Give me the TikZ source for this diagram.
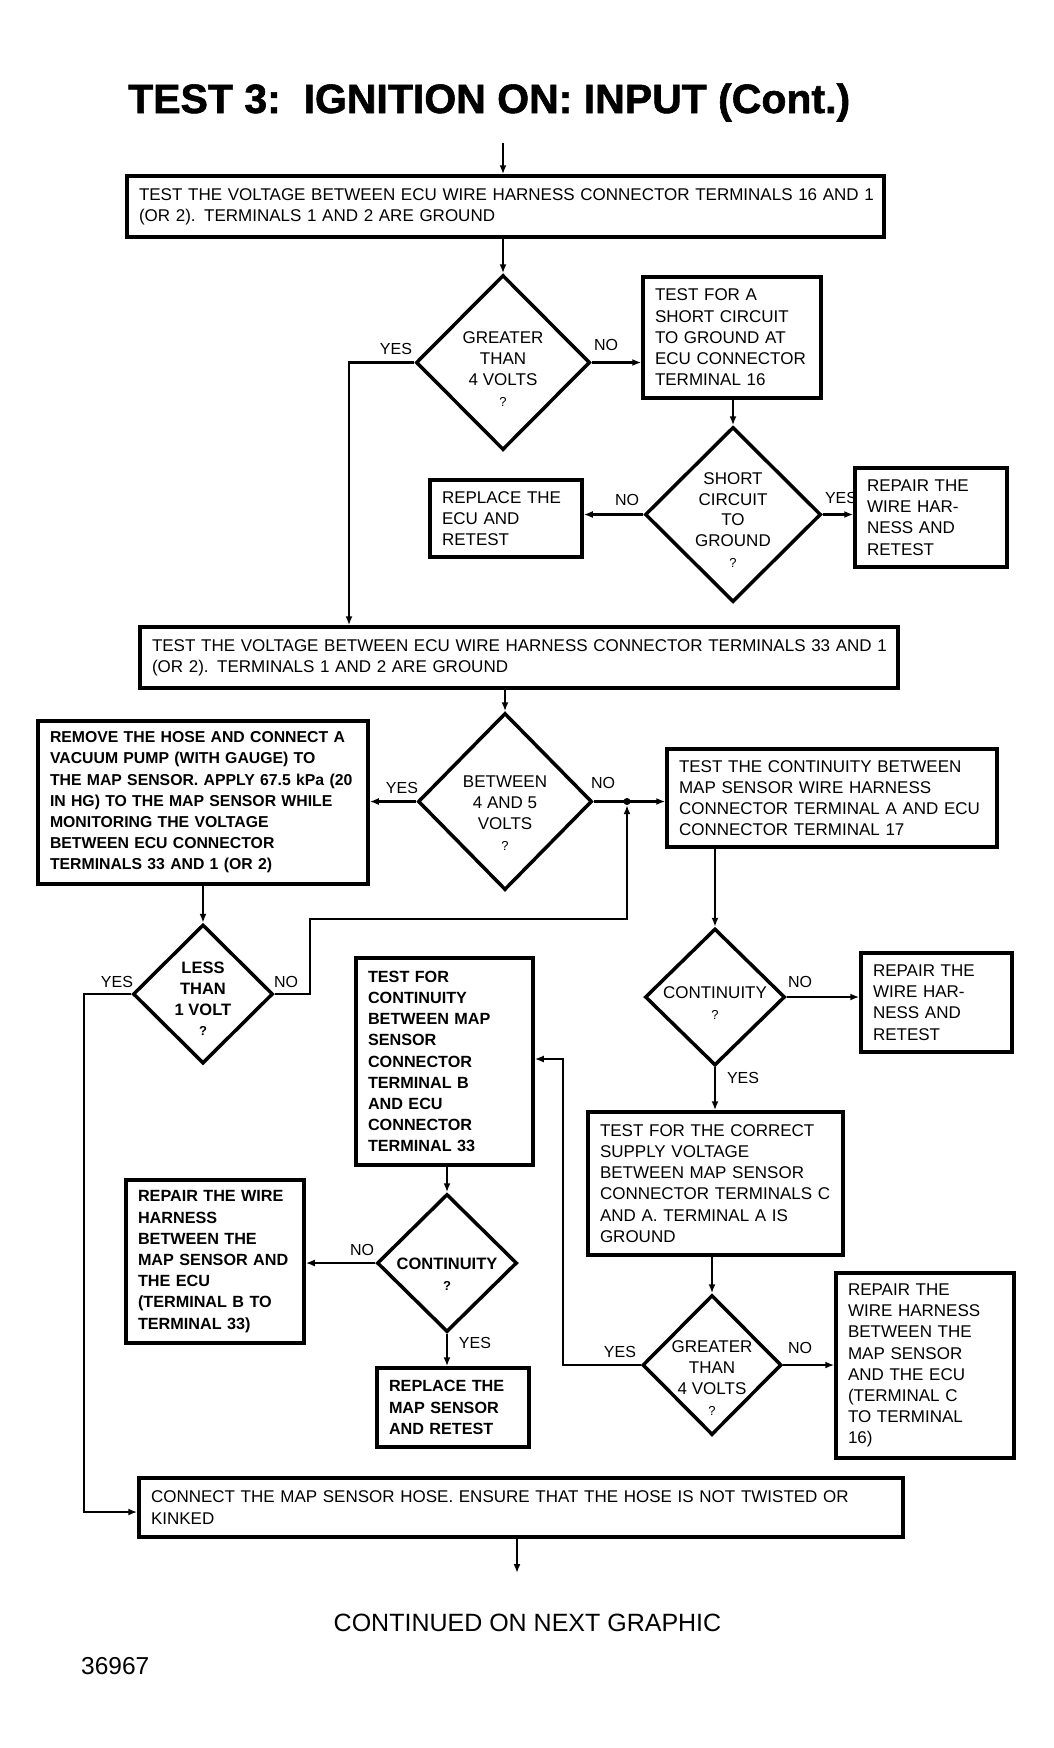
\documentclass[tikz,border=0pt]{standalone}
\usepackage{fontspec}
\setmainfont{Liberation Sans}
\newfontfamily\titlefont{Liberation Sans Bold}[FakeBold=1.4]
\usetikzlibrary{shapes.geometric,arrows.meta}
\newcommand\xl[1]{\mbox{#1}}
\newcommand\qm{{\fontsize{13}{13}\selectfont ?}}
\begin{document}
\begin{tikzpicture}[x=1pt,y=-1pt,
  box/.style={draw, line width=3.5pt, inner xsep=12pt, inner ysep=2pt, align=left, font=\fontsize{17}{21.2}\selectfont},
  hbox/.style={box, font=\fontsize{16.2}{21.2}\selectfont\bfseries},
  dia/.style={draw, diamond, line width=3.5pt, inner sep=0pt},
  dtxt/.style={align=center, inner sep=0pt, font=\fontsize{17}{20.8}\selectfont},
  hdtxt/.style={dtxt, font=\fontsize{16.5}{20.8}\selectfont\bfseries},
  lab/.style={inner sep=0pt, font=\fontsize{16}{16}\selectfont},
  conn/.style={line width=2.6pt, -{Latex[length=9pt,width=7pt]}},
  dotn/.style={circle, fill, inner sep=0pt, minimum size=7pt}]
\fill[white] (0,0) rectangle (1053,1748);
\useasboundingbox (0,0) rectangle (1053,1748);

% title
\node[anchor=base west, inner sep=0pt, font=\fontsize{41}{41}\titlefont] (title) at (128,113) {TEST 3:\ \ IGNITION ON: INPUT (Cont.)};

% boxes
\node[box, minimum width=757pt, minimum height=61pt, text width=733pt] (b1) at (505.5,206.5)
 {\xl{TEST THE VOLTAGE BETWEEN ECU WIRE HARNESS CONNECTOR TERMINALS 16 AND 1}\\\xl{(OR 2). TERMINALS 1 AND 2 ARE GROUND}};
\node[box, minimum width=178pt, minimum height=121pt, text width=154pt] (b2) at (732,337.5)
 {\xl{TEST FOR A}\\\xl{SHORT CIRCUIT}\\\xl{TO GROUND AT}\\\xl{ECU CONNECTOR}\\\xl{TERMINAL 16}};
\node[box, minimum width=152pt, minimum height=77pt, text width=128pt] (brp) at (506,518.5)
 {\xl{REPLACE THE}\\\xl{ECU AND}\\\xl{RETEST}};
\node[box, minimum width=152pt, minimum height=99pt, text width=128pt] (brw) at (931,517.5)
 {\xl{REPAIR THE}\\\xl{WIRE HAR-}\\\xl{NESS AND}\\\xl{RETEST}};
\node[box, minimum width=758pt, minimum height=61pt, text width=734pt] (b3) at (519,657.5)
 {\xl{TEST THE VOLTAGE BETWEEN ECU WIRE HARNESS CONNECTOR TERMINALS 33 AND 1}\\\xl{(OR 2). TERMINALS 1 AND 2 ARE GROUND}};
\node[hbox, minimum width=330pt, minimum height=163pt, text width=306pt, font=\fontsize{15.8}{21.2}\selectfont\bfseries] (b4) at (203,802.5)
 {\xl{REMOVE THE HOSE AND CONNECT A}\\\xl{VACUUM PUMP (WITH GAUGE) TO}\\\xl{THE MAP SENSOR. APPLY 67.5 kPa (20}\\\xl{IN HG) TO THE MAP SENSOR WHILE}\\\xl{MONITORING THE VOLTAGE}\\\xl{BETWEEN ECU CONNECTOR}\\\xl{TERMINALS 33 AND 1 (OR 2)}};
\node[box, minimum width=330pt, minimum height=98pt, text width=306pt] (b5) at (832,798)
 {\xl{TEST THE CONTINUITY BETWEEN}\\\xl{MAP SENSOR WIRE HARNESS}\\\xl{CONNECTOR TERMINAL A AND ECU}\\\xl{CONNECTOR TERMINAL 17}};
\node[hbox, minimum width=177pt, minimum height=207pt, text width=153pt] (b6) at (444.5,1061.5)
 {\xl{TEST FOR}\\\xl{CONTINUITY}\\\xl{BETWEEN MAP}\\\xl{SENSOR}\\\xl{CONNECTOR}\\\xl{TERMINAL B}\\\xl{AND ECU}\\\xl{CONNECTOR}\\\xl{TERMINAL 33}};
\node[box, minimum width=151pt, minimum height=99pt, text width=127pt] (b7) at (936.5,1002.5)
 {\xl{REPAIR THE}\\\xl{WIRE HAR-}\\\xl{NESS AND}\\\xl{RETEST}};
\node[hbox, minimum width=178pt, minimum height=163pt, text width=154pt] (b8) at (215,1261.5)
 {\xl{REPAIR THE WIRE}\\\xl{HARNESS}\\\xl{BETWEEN THE}\\\xl{MAP SENSOR AND}\\\xl{THE ECU}\\\xl{(TERMINAL B TO}\\\xl{TERMINAL 33)}};
\node[hbox, minimum width=152pt, minimum height=79pt, text width=128pt] (b9) at (453,1407.5)
 {\xl{REPLACE THE}\\\xl{MAP SENSOR}\\\xl{AND RETEST}};
\node[box, minimum width=255pt, minimum height=143pt, text width=231pt] (b10) at (715.5,1183.5)
 {\xl{TEST FOR THE CORRECT}\\\xl{SUPPLY VOLTAGE}\\\xl{BETWEEN MAP SENSOR}\\\xl{CONNECTOR TERMINALS C}\\\xl{AND A. TERMINAL A IS}\\\xl{GROUND}};
\node[box, minimum width=178pt, minimum height=185pt, text width=154pt] (b11) at (925,1365.5)
 {\xl{REPAIR THE}\\\xl{WIRE HARNESS}\\\xl{BETWEEN THE}\\\xl{MAP SENSOR}\\\xl{AND THE ECU}\\\xl{(TERMINAL C}\\\xl{TO TERMINAL}\\\xl{16)}};
\node[box, minimum width=764pt, minimum height=59pt, text width=740pt] (b12) at (521,1507.5)
 {\xl{CONNECT THE MAP SENSOR HOSE. ENSURE THAT THE HOSE IS NOT TWISTED OR}\\\xl{KINKED}};

% diamonds
\node[dia, minimum width=174pt, minimum height=175pt] (d1) at (503,362.5) {};
\node[dia, minimum width=176pt, minimum height=175pt] (d2) at (733,514.5) {};
\node[dia, minimum width=174pt, minimum height=177pt] (d3) at (505,801.5) {};
\node[dia, minimum width=140pt, minimum height=139pt] (d4) at (203,994) {};
\node[dia, minimum width=140pt, minimum height=137pt] (d5) at (715,997) {};
\node[dia, minimum width=140pt, minimum height=138pt] (d6) at (447,1263) {};
\node[dia, minimum width=139pt, minimum height=140pt] (d7) at (712,1365) {};

\node[dtxt] (t1) at (503,369) {GREATER\\THAN\\4 VOLTS\\\qm};
\node[dtxt] (t2) at (733,520) {SHORT\\CIRCUIT\\TO\\GROUND\\\qm};
\node[dtxt] (t3) at (505,813) {BETWEEN\\4 AND 5\\VOLTS\\\qm};
\node[hdtxt] (t4) at (203,999) {LESS\\THAN\\1 VOLT\\\qm};
\node[dtxt] (t5) at (715,1003) {CONTINUITY\\\qm};
\node[hdtxt] (t6) at (447,1274) {CONTINUITY\\\qm};
\node[dtxt] (t7) at (712,1378) {GREATER\\THAN\\4 VOLTS\\\qm};

% labels
\node[lab] (l1y) at (396,349) {YES};
\node[lab] (l1n) at (606,345) {NO};
\node[lab] (l2n) at (627,500) {NO};
\node[lab] (l2y) at (841,498) {YES};
\node[lab] (l3y) at (402,788) {YES};
\node[lab] (l3n) at (603,783) {NO};
\node[lab] (l4y) at (117,982) {YES};
\node[lab] (l4n) at (286,982) {NO};
\node[lab] (l5n) at (800,982) {NO};
\node[lab] (l5y) at (743,1078) {YES};
\node[lab] (l6n) at (362,1250) {NO};
\node[lab] (l6y) at (475,1343) {YES};
\node[lab] (l7y) at (620,1352) {YES};
\node[lab] (l7n) at (800,1348) {NO};

% connectors
\coordinate (top) at (503,143);
\draw[conn] (top) -- (top |- b1.north);
\draw[conn] (b1.south -| d1.north) -- (d1.north);
\coordinate (c1) at (349,362.5);
\draw[conn] (d1.west) -- (c1) -- (c1 |- b3.north);
\draw[conn] (d1.east) -- (d1.east -| b2.west);
\draw[conn] (b2.south -| d2.north) -- (d2.north);
\draw[conn] (d2.west) -- (d2.west -| brp.east);
\draw[conn] (d2.east) -- (d2.east -| brw.west);
\draw[conn] (b3.south -| d3.north) -- (d3.north);
\draw[conn] (d3.west) -- (d3.west -| b4.east);
\draw[conn] (d3.east) -- (d3.east -| b5.west);
\node[dotn] (j1) at (627,801.5) {};
\draw[conn] (b4.south -| d4.north) -- (d4.north);
\coordinate (c4) at (84,1512);
\draw[conn] (d4.west) -- (c4 |- d4.west) -- (c4) -- (c4 -| b12.west);
\coordinate (c5) at (310,919);
\draw[conn] (d4.east) -- (c5 |- d4.east) -- (c5) -- (c5 -| j1) -- (j1.south);
\draw[conn] (b5.south -| d5.north) -- (d5.north);
\draw[conn] (d5.east) -- (d5.east -| b7.west);
\draw[conn] (d5.south) -- (d5.south |- b10.north);
\draw[conn] (b6.south -| d6.north) -- (d6.north);
\draw[conn] (d6.west) -- (d6.west -| b8.east);
\draw[conn] (d6.south) -- (d6.south |- b9.north);
\draw[conn] (b10.south -| d7.north) -- (d7.north);
\coordinate (c7) at (563,1059);
\draw[conn] (d7.west) -- (c7 |- d7.west) -- (c7) -- (c7 -| b6.east);
\draw[conn] (d7.east) -- (d7.east -| b11.west);
\coordinate (bot) at (517,1573);
\draw[conn] (b12.south -| bot) -- (bot);

% footer
\node[anchor=base, inner sep=0pt, font=\fontsize{25}{25}\selectfont] (cont) at (527.5,1631) {CONTINUED ON NEXT GRAPHIC};
\node[anchor=base west, inner sep=0pt, font=\fontsize{24.5}{25}\selectfont] (num) at (81,1674) {36967};
\end{tikzpicture}
\end{document}
